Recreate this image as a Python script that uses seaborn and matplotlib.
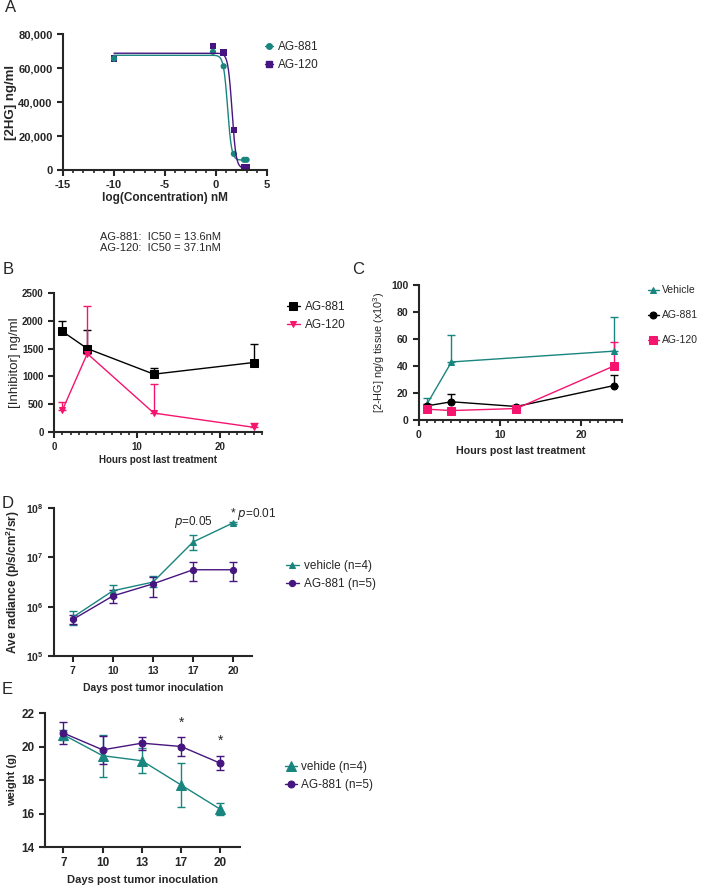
import numpy as np
import pandas as pd
import matplotlib
matplotlib.use("Agg")
import matplotlib.pyplot as plt
from matplotlib.lines import Line2D
from matplotlib.ticker import MultipleLocator, FuncFormatter
import seaborn as sns

# ---- data ----
# A: dose response (log nM)
a_x881 = [-10, -0.3, 0.75, 1.75, 2.75, 3.0]
a_y881 = [65500, 69500, 61000, 9500, 6000, 6000]
a_x120 = [-10, -0.3, 0.75, 1.75, 2.75, 3.0]
a_y120 = [65500, 73000, 69000, 23500, 1500, 1500]
# fit parameters (top, bottom, logIC50, hill)
fit881 = (67500, 5800, np.log10(13.6), 2.2)
fit120 = (68700, 1000, np.log10(37.1), 2.2)

# B: plasma inhibitor
b_hours = [1, 4, 12, 24]
b_881 = [1810, 1500, 1040, 1250]
b_881_err = [180, 330, 120, 330]
b_120 = [390, 1410, 340, 85]
b_120_err = [155, 850, 515, 80]

# C: tumour 2-HG
c_hours_veh = [1, 4, 24]
c_veh = [12, 43, 51]
c_veh_err = [4.5, 20, 25.5]
c_hours = [1, 4, 12, 24]
c_881 = [10.5, 13.5, 10, 25.5]
c_881_err = [1, 5.5, 0.8, 7.5]
c_120 = [8, 7, 8.5, 40]
c_120_err = [0.5, 0.5, 0.5, 18]

# D: radiance
days = ["7", "10", "13", "17", "20"]
d_veh = [6.1e5, 2.1e6, 3.15e6, 2.05e7, 5.0e7]
d_veh_lo = [4.2e5, 1.55e6, 2.5e6, 1.4e7, 4.8e7]
d_veh_hi = [8.2e5, 2.8e6, 4.1e6, 2.8e7, 5.2e7]
d_881 = [5.5e5, 1.65e6, 2.9e6, 5.6e6, 5.6e6]
d_881_lo = [4.4e5, 1.18e6, 1.55e6, 3.3e6, 3.3e6]
d_881_hi = [6.8e5, 2.2e6, 4.0e6, 7.9e6, 7.9e6]

# E: body weight
e_veh = [20.7, 19.45, 19.15, 17.7, 16.25]
e_veh_err = [0.3, 1.25, 0.75, 1.3, 0.35]
e_881 = [20.8, 19.8, 20.2, 20.0, 19.0]
e_881_err = [0.65, 0.82, 0.38, 0.55, 0.42]

TEAL = "#19857f"
PURPLE = "#46157f"
PINK = "#f5146e"
BLACK = "#000000"

sns.set_style("ticks")
plt.rcParams["font.family"] = ["Liberation Sans", "DejaVu Sans"]
plt.rcParams["mathtext.default"] = "regular"
plt.rcParams["axes.linewidth"] = 1.5
plt.rcParams["xtick.major.width"] = 1.5
plt.rcParams["ytick.major.width"] = 1.5
plt.rcParams["xtick.minor.width"] = 1.2
plt.rcParams["xtick.major.size"] = 4
plt.rcParams["ytick.major.size"] = 4
plt.rcParams["xtick.minor.size"] = 2.5

fig = plt.figure(figsize=(7.02, 8.86), dpi=100)
W, H = 702, 886


def add_ax(left, top, right, bottom):
    return fig.add_axes([left / W, 1 - bottom / H, (right - left) / W, (bottom - top) / H])


def style(ax, size):
    sns.despine(ax=ax)
    for lab in ax.get_xticklabels() + ax.get_yticklabels():
        lab.set_fontweight("bold")
        lab.set_fontsize(size)


def fig_legend(ax, handles, labels, x, y, spacing=0.6, hl=1.0, pad=0.4, size=8):
    ax.legend(handles, labels, loc="upper left", bbox_to_anchor=(x / W, 1 - y / H),
              bbox_transform=fig.transFigure, frameon=False, fontsize=size,
              handlelength=hl, handletextpad=pad, labelspacing=spacing, borderpad=0)


def logistic(x, p):
    top, bot, lic, h = p
    return bot + (top - bot) / (1 + 10 ** ((x - lic) * h))


# ---- A ----
ax = add_ax(63, 34, 267, 170)
xs = np.linspace(-10, 3, 400)
sns.lineplot(x=xs, y=logistic(xs, fit881), color=TEAL, lw=1, ax=ax)
sns.lineplot(x=xs, y=logistic(xs, fit120), color=PURPLE, lw=1, ax=ax)
sns.scatterplot(x=a_x120, y=a_y120, marker="s", color=PURPLE, s=22, edgecolor="none", ax=ax)
sns.scatterplot(x=a_x881, y=a_y881, marker="o", color=TEAL, s=20, edgecolor="none", ax=ax)
ax.set_xlim(-15, 5)
ax.set_ylim(0, 80000)
ax.set_yticks([0, 20000, 40000, 60000, 80000])
ax.yaxis.set_major_formatter(FuncFormatter(lambda v, p: f"{int(v):,}"))
ax.set_xticks([-15, -10, -5, 0, 5])
ax.xaxis.set_major_formatter(FuncFormatter(lambda v, p: f"{int(v)}"))
ax.xaxis.set_minor_locator(MultipleLocator(1))
ax.set_xlabel("log(Concentration) nM", fontsize=8.5, fontweight="bold", labelpad=1)
ax.set_ylabel("[2HG] ng/ml", fontsize=9.5, fontweight="bold", labelpad=1)
style(ax, 8)
hA = [Line2D([], [], color=TEAL, marker="o", ms=4, lw=1),
      Line2D([], [], color=PURPLE, marker="s", ms=4, lw=1)]
fig_legend(ax, hA, ["AG-881", "AG-120"], 259, 35, spacing=0.5, hl=0.7, pad=0.4, size=8.5)
fig.text(160 / W, 1 - 237 / H, "AG-881:  IC50 = 13.6nM", ha="center", va="center", fontsize=8)
fig.text(160 / W, 1 - 248 / H, "AG-120:  IC50 = 37.1nM", ha="center", va="center", fontsize=8)

# ---- B ----
ax = add_ax(54, 293, 262, 432)
ax.errorbar(b_hours, b_881, yerr=[np.zeros(4), b_881_err], fmt="none", ecolor=BLACK, elinewidth=1, capsize=3)
ax.errorbar(b_hours, b_120, yerr=[np.zeros(4), b_120_err], fmt="none", ecolor=PINK, elinewidth=1, capsize=3)
sns.lineplot(x=b_hours, y=b_881, color=BLACK, marker="s", ms=6, mec=BLACK, lw=1, label="AG-881", ax=ax)
sns.lineplot(x=b_hours, y=b_120, color=PINK, marker="v", ms=5, mec=PINK, lw=1, label="AG-120", ax=ax)
ax.set_xlim(0, 25)
ax.set_ylim(0, 2500)
ax.set_xticks([0, 10, 20])
ax.set_yticks([0, 500, 1000, 1500, 2000, 2500])
ax.xaxis.set_minor_locator(MultipleLocator(1))
ax.set_xlabel("Hours post last treatment", fontsize=7, fontweight="bold", labelpad=2)
ax.set_ylabel("[Inhibitor] ng/ml", fontsize=9.5, labelpad=1)
style(ax, 7)
h, l = ax.get_legend_handles_labels()
fig_legend(ax, h, l, 281, 295, spacing=0.55, hl=1.1, pad=0.4, size=8.5)

# ---- C ----
ax = add_ax(419, 285, 622, 420)
ax.errorbar(c_hours_veh, c_veh, yerr=[np.zeros(3), c_veh_err], fmt="none", ecolor=TEAL, elinewidth=1, capsize=3)
ax.errorbar(c_hours, c_881, yerr=[np.zeros(4), c_881_err], fmt="none", ecolor=BLACK, elinewidth=1, capsize=3)
ax.errorbar(c_hours, c_120, yerr=[np.zeros(4), c_120_err], fmt="none", ecolor=PINK, elinewidth=1, capsize=3)
sns.lineplot(x=c_hours_veh, y=c_veh, color=TEAL, marker="^", ms=5, mec=TEAL, lw=1, label="Vehicle", ax=ax)
sns.lineplot(x=c_hours, y=c_881, color=BLACK, marker="o", ms=5, mec=BLACK, lw=1, label="AG-881", ax=ax)
sns.lineplot(x=c_hours, y=c_120, color=PINK, marker="s", ms=6, mec=PINK, lw=1, label="AG-120", ax=ax)
ax.set_xlim(0, 25)
ax.set_ylim(0, 100)
ax.set_xticks([0, 10, 20])
ax.set_yticks([0, 20, 40, 60, 80, 100])
ax.xaxis.set_minor_locator(MultipleLocator(1))
ax.set_xlabel("Hours post last treatment", fontsize=7.7, fontweight="bold", labelpad=4)
ax.set_ylabel("[2-HG] ng/g tissue (x10$^3$)", fontsize=7.8, labelpad=3)
style(ax, 7.5)
h, l = ax.get_legend_handles_labels()
fig_legend(ax, h, l, 643, 280, spacing=1.45, hl=1.0, pad=0.3, size=7.5)

# ---- D ----
ax = add_ax(54, 508, 252, 656)
pos = np.arange(len(days))
d_veh_a = np.array(d_veh)
d_881_a = np.array(d_881)
ax.errorbar(pos, d_veh, yerr=[d_veh_a - d_veh_lo, np.array(d_veh_hi) - d_veh_a], fmt="none",
            ecolor=TEAL, elinewidth=1, capsize=3)
ax.errorbar(pos, d_881, yerr=[d_881_a - d_881_lo, np.array(d_881_hi) - d_881_a], fmt="none",
            ecolor=PURPLE, elinewidth=1, capsize=3)
sns.lineplot(x=pos, y=d_veh, color=TEAL, marker="^", ms=5, mec=TEAL, lw=1, label="vehicle (n=4)", ax=ax)
sns.lineplot(x=pos, y=d_881, color=PURPLE, marker="o", ms=4.5, mec=PURPLE, lw=1, label="AG-881 (n=5)", ax=ax)
ax.set_yscale("log")
ax.set_ylim(1e5, 1e8)
ax.set_yticks([1e5, 1e6, 1e7, 1e8])
ax.set_yticklabels(["10$^5$", "10$^6$", "10$^7$", "10$^8$"])
ax.minorticks_off()
ax.set_xlim(-0.47, 4.47)
ax.set_xticks(pos)
ax.set_xticklabels(days)
ax.set_xlabel("Days post tumor inoculation", fontsize=7.5, fontweight="bold", labelpad=5)
ax.set_ylabel("Ave radiance (p/s/cm$^2$/sr)", fontsize=8.6, fontweight="bold", labelpad=3)
style(ax, 7.5)
ax.text(3, 5.2e7, "$\\it{p}$=0.05", ha="center", va="center", fontsize=8.5)
ax.text(3.93, 7.6e7, "* $\\it{p}$=0.01", ha="left", va="center", fontsize=8.5)
h, l = ax.get_legend_handles_labels()
fig_legend(ax, h, l, 280, 554, spacing=0.55, hl=1.1, pad=0.4, size=8.5)

# ---- E ----
ax = add_ax(45, 713, 240, 847)
ax.errorbar(pos, e_veh, yerr=e_veh_err, fmt="none", ecolor=TEAL, elinewidth=1, capsize=3)
ax.errorbar(pos, e_881, yerr=e_881_err, fmt="none", ecolor=PURPLE, elinewidth=1, capsize=3)
sns.lineplot(x=pos, y=e_veh, color=TEAL, marker="^", ms=6.5, mec=TEAL, lw=1, label="vehide (n=4)", ax=ax)
sns.lineplot(x=pos, y=e_881, color=PURPLE, marker="o", ms=5, mec=PURPLE, lw=1, label="AG-881 (n=5)", ax=ax)
ax.set_ylim(14, 22)
ax.set_yticks([14, 16, 18, 20, 22])
ax.set_xlim(-0.47, 4.5)
ax.set_xticks(pos)
ax.set_xticklabels(days)
ax.set_xlabel("Days post tumor inoculation", fontsize=8, fontweight="bold", labelpad=4)
ax.set_ylabel("weight (g)", fontsize=8, fontweight="bold", labelpad=3)
style(ax, 8.5)
ax.text(3, 21.0, "*", ha="center", va="bottom", fontsize=10)
ax.text(4, 19.95, "*", ha="center", va="bottom", fontsize=10)
h, l = ax.get_legend_handles_labels()
fig_legend(ax, h, l, 279, 755, spacing=0.55, hl=1.0, pad=0.4, size=8.5)

# panel letters
for letter, x, y in [("A", 5, 8), ("B", 3, 270), ("C", 352, 270), ("D", 2, 503), ("E", 2, 690)]:
    fig.text(x / W, 1 - y / H, letter, fontsize=12, ha="left", va="center")

fig.savefig("out.png", dpi=100)
